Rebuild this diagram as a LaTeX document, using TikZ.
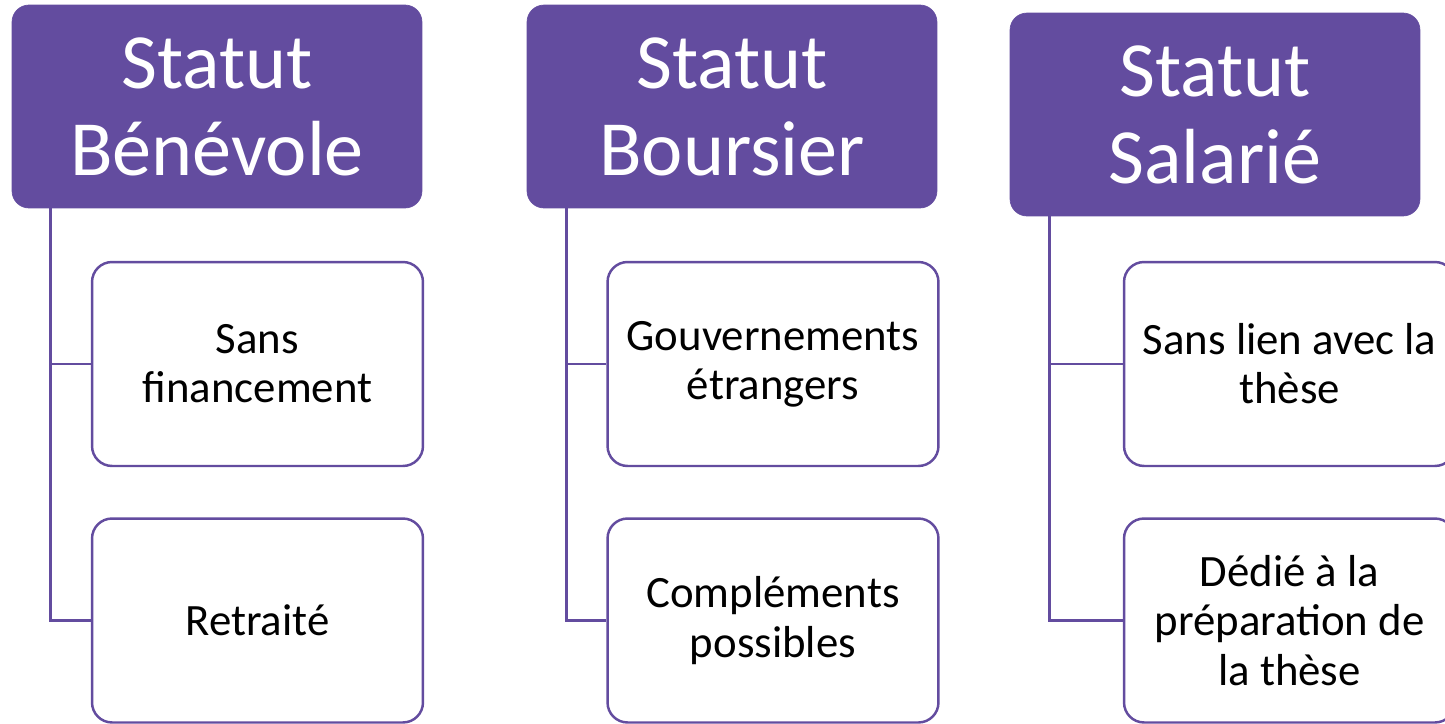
\documentclass[tikz,border=0pt]{standalone}
\usepackage{fontspec}
\setmainfont{Carlito}
\definecolor{statutviolet}{RGB}{99,76,159}

\begin{document}
\begin{tikzpicture}[x=0.02cm,y=-0.02cm,
    statut/.style={fill=statutviolet, draw=statutviolet, rounded corners=0.34cm,
        text=white, minimum width=8.2cm, minimum height=4.06cm, inner sep=0pt,
        align=center, font=\fontsize{44.5}{49.5}\selectfont},
    cas/.style={draw=statutviolet, line width=1.4pt, rounded corners=0.4cm, fill=white,
        minimum width=6.62cm, minimum height=4.08cm, inner sep=0pt,
        align=center, font=\fontsize{25.5}{28}\selectfont},
    lien/.style={draw=statutviolet, line width=1.4pt}]

    % Page frame
    \useasboundingbox (0,0) rectangle (1445,724);
    \clip (0,0) rectangle (1445,724);

    % Statut Benevole
    \node[statut] (benevole) at (217,106.5) {Statut\\Bénévole};
    \node[cas] (sansfin) at (257.5,364) {Sans\\financement};
    \node[cas] (retraite) at (257.5,620.5) {Retraité};
    \draw[lien] (benevole.south west) ++(39,0) |- (sansfin.west);
    \draw[lien] (benevole.south west) ++(39,0) |- (retraite.west);

    % Statut Boursier
    \node[statut] (boursier) at (732,106.5) {Statut\\Boursier};
    \node[cas] (gouv) at (773,364) {Gouvernements\\étrangers};
    \node[cas] (complements) at (773,620.5) {Compléments\\possibles};
    \draw[lien] (boursier.south west) ++(40,0) |- (gouv.west);
    \draw[lien] (boursier.south west) ++(40,0) |- (complements.west);

    % Statut Salarie
    \node[statut] (salarie) at (1215,114.5) {Statut\\Salarié};
    \node[cas] (sanslien) at (1289.5,364) {Sans lien avec la\\thèse};
    \node[cas] (dedie) at (1289.5,620.5) {Dédié à la\\préparation de\\la thèse};
    \draw[lien] (salarie.south west) ++(40,0) |- (sanslien.west);
    \draw[lien] (salarie.south west) ++(40,0) |- (dedie.west);
\end{tikzpicture}
\end{document}
